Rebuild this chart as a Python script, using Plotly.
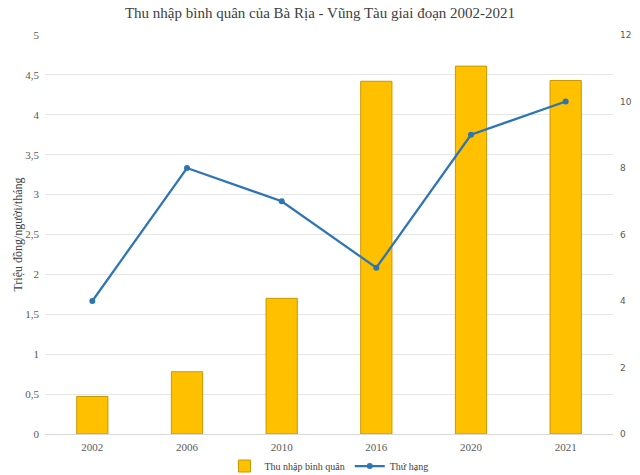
import plotly.graph_objects as go

years = ["2002", "2006", "2010", "2016", "2020", "2021"]
income = [0.47, 0.78, 1.70, 4.42, 4.61, 4.43]
rank = [4, 8, 7, 5, 9, 10]

serif = "Liberation Serif"
fig = go.Figure()
fig.add_trace(go.Bar(
    x=years, y=income, name="Thu nhập bình quân",
    marker=dict(color="#FFC000", line=dict(color="#C89800", width=1)),
    width=0.33, yaxis="y",
))
fig.add_trace(go.Scatter(
    x=years, y=rank, name="Thứ hạng", mode="lines+markers",
    line=dict(color="#2E75B6", width=2.25),
    marker=dict(size=6, color="#2E75B6"),
    yaxis="y2",
))
H = 475
fig.update_layout(
    width=640, height=H,
    paper_bgcolor="white", plot_bgcolor="white",
    margin=dict(l=45, r=27, t=35, b=41, autoexpand=False),
    title=dict(text="Thu nhập bình quân của Bà Rịa - Vũng Tàu giai đoạn 2002-2021",
               x=0.5, xanchor="center", y=1 - 13 / H, yanchor="middle",
               font=dict(family=serif, size=15, color="#404040")),
    xaxis=dict(tickfont=dict(family=serif, size=11, color="#595959"),
               showline=True, linecolor="#D9D9D9", ticks="", showgrid=False,
               automargin=False, ticklabelstandoff=3),
    yaxis=dict(range=[0, 5], dtick=0.5, tickformat=",.1~f",
               tickfont=dict(family=serif, size=11, color="#595959"),
               gridcolor="#E6E6E6", zeroline=False, automargin=False,
               ticklabelstandoff=5,
               title=dict(text="Triệu đồng/người/tháng",
                          font=dict(family=serif, size=12, color="#404040"),
                          standoff=0)),
    yaxis2=dict(range=[0, 12], dtick=2, overlaying="y", side="right",
                showgrid=False, zeroline=False, automargin=False,
                ticklabelstandoff=6,
                tickfont=dict(family="DejaVu Sans", size=9, color="#595959")),
    separators=", ",
    legend=dict(orientation="h", x=0.5, xanchor="center",
                yref="container", y=9 / H, yanchor="middle",
                font=dict(family=serif, size=10, color="#404040")),
    bargap=0.5,
)
fig.write_html("out.html", config={"displayModeBar": False},
               post_script="document.body.style.margin='0';")
